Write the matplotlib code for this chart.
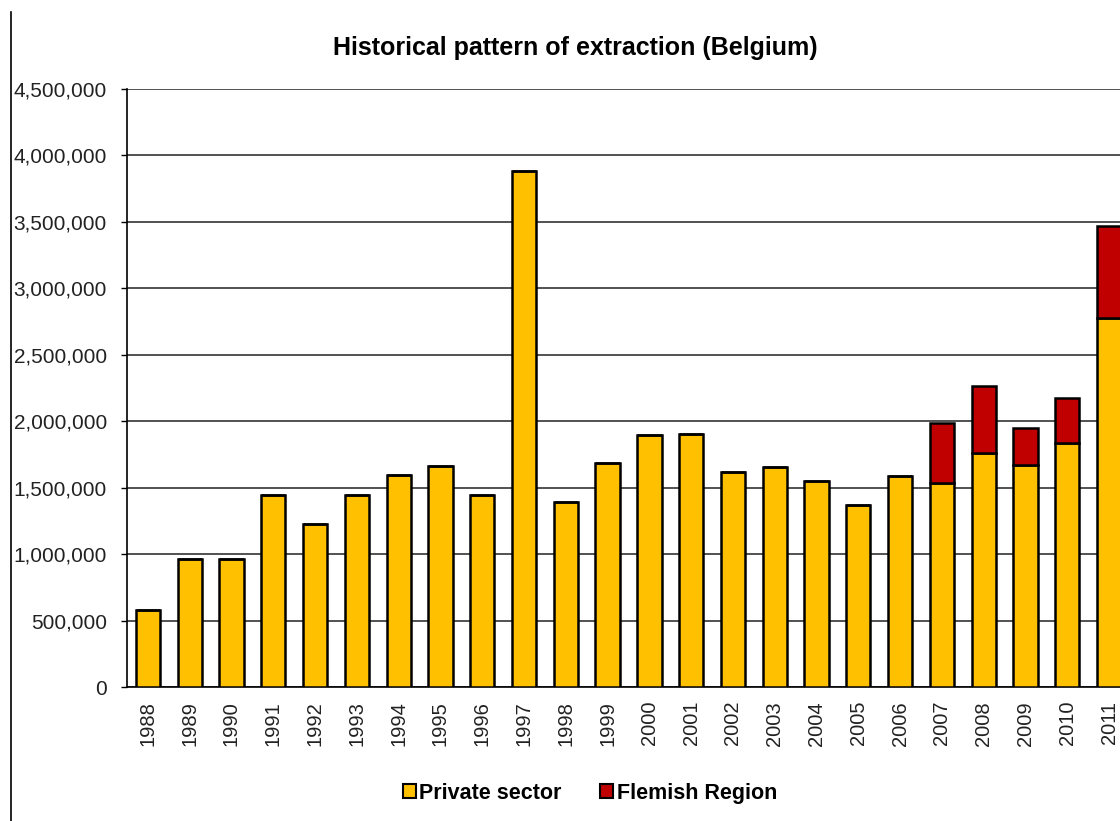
import matplotlib
matplotlib.use("Agg")
import matplotlib.pyplot as plt
from matplotlib.patches import Patch
from matplotlib.lines import Line2D
import numpy as np

years = [str(y) for y in range(1988, 2012)]
private_sector = [580000, 960000, 960000, 1445000, 1230000, 1445000, 1595000, 1665000,
                  1445000, 3885000, 1395000, 1685000, 1895000, 1905000, 1615000, 1655000,
                  1550000, 1370000, 1590000, 1535000, 1760000, 1670000, 1835000, 2775000]
flemish_region = [0]*19 + [450000, 505000, 280000, 340000, 695000]
yticks = list(range(0, 4500001, 500000))

plt.rcParams['font.family'] = ['Liberation Sans', 'DejaVu Sans']

W, H = 1120, 821
fig = plt.figure(figsize=(W/100, H/100), dpi=100)
L, R, T, B = 127, 1130, 89, 687
ax = fig.add_axes([L/W, (H-B)/H, (R-L)/W, (B-T)/H])

x = np.arange(len(years))
yellow = '#FFC000'
red = '#C00000'
ax.bar(x, private_sector, width=0.58, color=yellow, edgecolor='black', linewidth=1.8, zorder=3)
ax.bar(x, flemish_region, width=0.58, bottom=private_sector, color=red, edgecolor='black',
       linewidth=1.8, zorder=3)

ax.set_xlim(-0.5, len(years) - 0.5)
ax.set_ylim(0, 4500000)
ax.set_yticks(yticks)
ax.set_yticklabels([f"{v:,}" for v in yticks], fontsize=15, color='#222222')
ax.set_xticks(x)
ax.set_xticklabels(years, rotation=90, fontsize=14.5, color='#222222')
ax.tick_params(axis='x', length=0, pad=10)
ax.tick_params(axis='y', length=4, width=1, direction='out', pad=10.5)
ax.yaxis.grid(True, color='#333333', linewidth=1.2, zorder=0)
ax.set_axisbelow(True)
for s in ['top', 'right']:
    ax.spines[s].set_visible(False)
for s in ['left', 'bottom']:
    ax.spines[s].set_color('black')
    ax.spines[s].set_linewidth(1.2)

fig.text(575/W, 1 - 48/H, 'Historical pattern of extraction (Belgium)', ha='center', va='center',
         fontsize=18, fontweight='bold')

handles = [Patch(facecolor=yellow, edgecolor='black', linewidth=1.5),
           Patch(facecolor=red, edgecolor='black', linewidth=1.5)]
fig.legend(handles, ['Private sector', 'Flemish Region'], loc='center',
           bbox_to_anchor=(590/W, 1 - 793/H), ncol=2, frameon=False,
           prop={'weight': 'bold', 'size': 15.5}, handlelength=0.6, handleheight=0.6,
           handletextpad=0.15, columnspacing=1.8)

fig.add_artist(Line2D([10.5/W, 10.5/W], [0, 1 - 12/H], color='black', linewidth=1.2))

fig.savefig('out.png', dpi=100)
